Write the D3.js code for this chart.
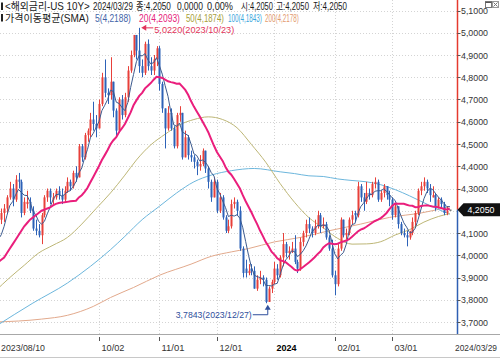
<!DOCTYPE html>
<html><head><meta charset="utf-8">
<script src="https://cdn.jsdelivr.net/npm/d3@7"></script>
<style>body{margin:0;background:#fff}svg{display:block}text{font-family:"Liberation Sans","Noto Sans CJK KR",sans-serif}</style>
</head><body>
<svg id="c" width="500" height="358"></svg>
<script>
const dates = [
"2023/08/10","2023/08/11","2023/08/14","2023/08/15","2023/08/16","2023/08/17","2023/08/18","2023/08/21","2023/08/22","2023/08/23","2023/08/24","2023/08/25","2023/08/28","2023/08/29","2023/08/30","2023/08/31",
"2023/09/01","2023/09/05","2023/09/06","2023/09/07","2023/09/08","2023/09/11","2023/09/12","2023/09/13","2023/09/14","2023/09/15","2023/09/18","2023/09/19","2023/09/20","2023/09/21","2023/09/22","2023/09/25","2023/09/26","2023/09/27","2023/09/28","2023/09/29",
"2023/10/02","2023/10/03","2023/10/04","2023/10/05","2023/10/06","2023/10/10","2023/10/11","2023/10/12","2023/10/13","2023/10/16","2023/10/17","2023/10/18","2023/10/19","2023/10/20","2023/10/23","2023/10/24","2023/10/25","2023/10/26","2023/10/27","2023/10/30","2023/10/31",
"2023/11/01","2023/11/02","2023/11/03","2023/11/06","2023/11/07","2023/11/08","2023/11/09","2023/11/13","2023/11/14","2023/11/15","2023/11/16","2023/11/17","2023/11/20","2023/11/21","2023/11/22","2023/11/24","2023/11/27","2023/11/28","2023/11/29","2023/11/30",
"2023/12/01","2023/12/04","2023/12/05","2023/12/06","2023/12/07","2023/12/08","2023/12/11","2023/12/12","2023/12/13","2023/12/14","2023/12/15","2023/12/18","2023/12/19","2023/12/20","2023/12/21","2023/12/22","2023/12/26","2023/12/27","2023/12/28","2023/12/29",
"2024/01/02","2024/01/03","2024/01/04","2024/01/05","2024/01/08","2024/01/09","2024/01/10","2024/01/11","2024/01/12","2024/01/16","2024/01/17","2024/01/18","2024/01/19","2024/01/22","2024/01/23","2024/01/24","2024/01/25","2024/01/26","2024/01/29","2024/01/30","2024/01/31",
"2024/02/01","2024/02/02","2024/02/05","2024/02/06","2024/02/07","2024/02/08","2024/02/09","2024/02/12","2024/02/13","2024/02/14","2024/02/15","2024/02/16","2024/02/20","2024/02/21","2024/02/22","2024/02/23","2024/02/26","2024/02/27","2024/02/28","2024/02/29",
"2024/03/01","2024/03/04","2024/03/05","2024/03/06","2024/03/07","2024/03/08","2024/03/11","2024/03/12","2024/03/13","2024/03/14","2024/03/15","2024/03/18","2024/03/19","2024/03/20","2024/03/21","2024/03/22","2024/03/25","2024/03/26","2024/03/27","2024/03/28","2024/03/29"];

const open = [4.01,4.08,4.16,4.19,4.21,4.26,4.30,4.25,4.34,4.33,
4.19,4.23,4.24,4.20,4.12,4.11,4.09,4.18,4.26,4.29,
4.25,4.26,4.29,4.27,4.25,4.29,4.33,4.31,4.37,4.35,
4.49,4.44,4.54,4.56,4.61,4.59,4.57,4.68,4.80,4.73,
4.72,4.78,4.65,4.56,4.70,4.63,4.71,4.83,4.90,4.99,
4.92,4.85,4.82,4.95,4.85,4.83,4.88,4.93,4.77,4.66,
4.57,4.64,4.57,4.49,4.63,4.64,4.44,4.53,4.45,4.44,
4.42,4.40,4.41,4.47,4.39,4.33,4.26,4.33,4.20,4.26,
4.17,4.11,4.13,4.23,4.24,4.20,4.03,3.94,3.92,3.94,
3.93,3.85,3.89,3.90,3.89,3.79,3.85,3.88,3.94,3.91,
3.99,4.05,4.01,4.02,4.03,3.97,3.94,4.06,4.10,4.14,
4.12,4.10,4.13,4.18,4.13,4.14,4.08,4.03,3.91,3.87,
4.03,4.16,4.09,4.10,4.16,4.19,4.18,4.31,4.26,4.24,
4.28,4.27,4.32,4.33,4.25,4.28,4.31,4.27,4.25,4.18,
4.22,4.14,4.10,4.09,4.08,4.10,4.15,4.19,4.29,4.31,
4.33,4.30,4.26,4.27,4.22,4.25,4.23,4.19,4.205];

const high = [4.11,4.17,4.21,4.23,4.27,4.33,4.32,4.36,4.37,4.34,
4.26,4.29,4.26,4.22,4.16,4.14,4.19,4.27,4.30,4.30,
4.28,4.30,4.31,4.30,4.31,4.35,4.34,4.38,4.40,4.50,
4.50,4.55,4.57,4.64,4.69,4.63,4.70,4.82,4.88,4.75,
4.89,4.78,4.66,4.71,4.72,4.73,4.85,4.92,4.99,4.99,
5.022,4.88,4.96,4.97,4.89,4.90,4.94,4.94,4.78,4.66,
4.67,4.66,4.58,4.64,4.67,4.64,4.56,4.54,4.47,4.45,
4.43,4.45,4.48,4.47,4.40,4.34,4.35,4.34,4.28,4.27,
4.18,4.16,4.25,4.26,4.25,4.22,4.04,3.98,3.96,3.96,
3.95,3.91,3.93,3.91,3.90,3.86,3.89,3.97,3.96,4.00,
4.10,4.06,4.04,4.06,4.09,3.98,4.08,4.11,4.16,4.17,
4.13,4.16,4.20,4.19,4.17,4.15,4.09,4.07,3.93,4.05,
4.17,4.16,4.12,4.17,4.20,4.20,4.33,4.32,4.28,4.33,
4.30,4.33,4.35,4.34,4.29,4.32,4.31,4.29,4.26,4.23,
4.22,4.15,4.12,4.11,4.11,4.17,4.20,4.30,4.33,4.35,
4.34,4.32,4.31,4.28,4.26,4.26,4.24,4.22,4.205];

const low = [3.99,4.07,4.14,4.15,4.19,4.25,4.22,4.24,4.30,4.17,
4.18,4.21,4.19,4.11,4.09,4.08,4.05,4.17,4.24,4.23,
4.23,4.25,4.25,4.23,4.24,4.28,4.29,4.30,4.33,4.35,
4.42,4.43,4.51,4.53,4.56,4.53,4.57,4.67,4.71,4.68,
4.70,4.62,4.53,4.55,4.61,4.62,4.69,4.82,4.89,4.88,
4.82,4.80,4.81,4.83,4.81,4.81,4.85,4.74,4.64,4.48,
4.56,4.56,4.48,4.48,4.60,4.43,4.44,4.43,4.42,4.39,
4.36,4.38,4.40,4.37,4.30,4.24,4.26,4.19,4.19,4.16,
4.10,4.10,4.12,4.21,4.18,4.02,3.90,3.90,3.91,3.91,
3.85,3.84,3.87,3.86,3.7843,3.79,3.83,3.87,3.89,3.90,
3.95,3.99,3.98,4.01,3.96,3.92,3.93,4.04,4.08,4.10,
4.08,4.09,4.12,4.10,4.12,4.07,4.02,3.90,3.82,3.86,
4.02,4.08,4.07,4.09,4.14,4.15,4.17,4.24,4.20,4.23,
4.25,4.26,4.30,4.24,4.24,4.26,4.25,4.22,4.16,4.17,
4.12,4.09,4.08,4.04,4.07,4.09,4.13,4.18,4.27,4.29,
4.28,4.24,4.26,4.20,4.21,4.21,4.18,4.18,4.205];

const close = [4.08,4.16,4.19,4.21,4.26,4.30,4.25,4.34,4.33,4.19,
4.24,4.24,4.20,4.12,4.11,4.09,4.18,4.26,4.29,4.26,
4.26,4.29,4.27,4.25,4.29,4.33,4.31,4.37,4.35,4.49,
4.44,4.54,4.56,4.61,4.59,4.57,4.68,4.80,4.73,4.72,
4.78,4.65,4.56,4.70,4.63,4.71,4.83,4.90,4.99,4.92,
4.85,4.82,4.95,4.85,4.83,4.88,4.93,4.77,4.66,4.57,
4.64,4.57,4.49,4.63,4.64,4.44,4.53,4.45,4.44,4.42,
4.40,4.41,4.47,4.39,4.33,4.26,4.33,4.20,4.26,4.17,
4.11,4.13,4.23,4.24,4.20,4.03,3.92,3.92,3.93,3.93,
3.85,3.89,3.90,3.89,3.79,3.85,3.88,3.94,3.91,3.99,
4.05,4.01,4.02,4.03,3.97,3.94,4.06,4.10,4.14,4.12,
4.10,4.13,4.18,4.13,4.14,4.08,4.03,3.91,3.87,4.03,
4.16,4.09,4.10,4.16,4.18,4.18,4.31,4.26,4.24,4.28,
4.27,4.32,4.33,4.25,4.28,4.31,4.27,4.25,4.18,4.22,
4.14,4.10,4.09,4.08,4.10,4.15,4.19,4.29,4.31,4.33,
4.30,4.27,4.27,4.22,4.25,4.23,4.19,4.20,4.205];

const ma5 = [4.046,4.072,4.092,4.130,4.180,4.224,4.242,4.272,4.296,4.282,
4.270,4.268,4.240,4.198,4.182,4.152,4.140,4.152,4.186,4.216,
4.250,4.272,4.274,4.266,4.272,4.286,4.290,4.310,4.330,4.370,
4.392,4.438,4.476,4.528,4.548,4.574,4.602,4.650,4.674,4.700,
4.742,4.736,4.688,4.682,4.664,4.650,4.686,4.754,4.812,4.870,
4.898,4.896,4.906,4.878,4.860,4.866,4.888,4.852,4.814,4.762,
4.714,4.642,4.586,4.580,4.594,4.554,4.546,4.538,4.500,4.456,
4.448,4.424,4.428,4.418,4.400,4.372,4.356,4.302,4.276,4.244,
4.214,4.174,4.180,4.176,4.182,4.166,4.124,4.062,4.000,3.946,
3.910,3.904,3.900,3.892,3.864,3.864,3.862,3.870,3.874,3.914,
3.954,3.980,3.996,4.020,4.016,3.994,4.004,4.020,4.042,4.072,
4.104,4.118,4.134,4.132,4.136,4.132,4.112,4.058,4.006,3.984,
4.000,4.012,4.050,4.108,4.138,4.142,4.186,4.218,4.234,4.254,
4.272,4.274,4.288,4.290,4.290,4.298,4.288,4.272,4.258,4.246,
4.212,4.178,4.146,4.126,4.102,4.104,4.122,4.162,4.208,4.254,
4.284,4.300,4.296,4.278,4.262,4.248,4.232,4.218,4.2188];

const ma20 = [3.96,3.97,3.98,3.99,4.01,4.03,4.05,4.07,4.09,4.11,
4.13,4.145,4.16,4.17,4.18,4.19,4.20,4.205,4.21,4.215,
4.224,4.231,4.235,4.237,4.238,4.240,4.243,4.244,4.245,4.260,
4.270,4.285,4.303,4.328,4.352,4.376,4.401,4.428,4.450,4.473,
4.499,4.517,4.531,4.554,4.571,4.590,4.616,4.642,4.674,4.696,
4.716,4.730,4.750,4.762,4.774,4.789,4.802,4.800,4.797,4.789,
4.782,4.778,4.775,4.771,4.772,4.758,4.743,4.721,4.693,4.668,
4.646,4.625,4.601,4.578,4.553,4.522,4.492,4.464,4.444,4.424,
4.397,4.375,4.362,4.343,4.321,4.300,4.270,4.243,4.218,4.193,
4.166,4.140,4.111,4.086,4.059,4.039,4.016,4.003,3.986,3.977,
3.974,3.968,3.957,3.947,3.935,3.931,3.938,3.947,3.957,3.967,
3.979,3.991,4.005,4.017,4.035,4.046,4.054,4.052,4.050,4.052,
4.058,4.062,4.066,4.072,4.083,4.095,4.107,4.115,4.120,4.128,
4.137,4.146,4.154,4.160,4.167,4.178,4.190,4.207,4.223,4.232,
4.231,4.232,4.231,4.227,4.223,4.222,4.216,4.217,4.221,4.223,
4.225,4.222,4.219,4.218,4.216,4.212,4.208,4.206,4.2093];

const ma50Idx = [0,5,10,15,20,25,30,35,40,45,49,54,59,64,69,74,79,84,89,94,99,104,109,114,119,124,129,134,139,144,149,154,158];
const ma50 = [3.84,3.90,3.955,4.01,4.045,4.08,4.14,4.21,4.28,4.36,4.428,4.496,4.544,4.586,4.610,4.622,4.610,4.573,4.498,4.418,4.322,4.238,4.169,4.123,4.076,4.050,4.051,4.061,4.091,4.115,4.149,4.174,4.1874];

const ma100Idx = [0,13,25,33,40,45,51,57,63,69,75,82,90,99,104,109,114,119,124,129,134,139,144,149,154,158];
const ma100 = [3.68,3.785,3.875,3.95,4.025,4.085,4.16,4.22,4.28,4.33,4.36,4.38,4.39,4.375,4.367,4.357,4.354,4.343,4.336,4.330,4.317,4.295,4.267,4.236,4.206,4.1843];

const ma200Idx = [0,16,25,34,40,48,57,68,75,82,88,97,106,116,127,137,148,158];
const ma200 = [3.70,3.713,3.73,3.77,3.81,3.855,3.91,3.96,3.995,4.015,4.03,4.06,4.08,4.11,4.14,4.17,4.19,4.2178];

const yTicks = [3.7,3.8,3.9,4.0,4.1,4.2,4.3,4.4,4.5,4.6,4.7,4.8,4.9,5.0,5.1];
const xTickDates = ["2023/10/02","2023/11/01","2023/12/01","2024/01/02","2024/02/01","2024/03/01"];
const xTickLabels = ["10/02","11/01","12/01","2024","02/01","03/01"];

const titleText = "<해외금리-US 10Y>";
const lastDate = "2024/03/29";
const quoteItems = ["종:4,2050","0,0000","0,00%","시:4,2050","고:4,2050","저:4,2050"];
const smaTitle = "가격이동평균(SMA)";
const smaLabels = ["5(4,2188)","20(4,2093)","50(4,1874)","100(4,1843)","200(4,2178)"];
const highNote = "5,0220(2023/10/23)";
const lowNote = "3,7843(2023/12/27)";

// ---------- drawing ----------
const svg = d3.select("#c");
const axisX = 457.5;
const x = d3.scaleLinear().domain([0, dates.length - 1]).range([-4.5, 449.8]);
const y = d3.scaleLinear().domain([3.7, 5.1]).range([322, 10.5]);
const fmt = v => d3.format(".4f")(v).replace(".", ",");
const last = close[close.length - 1];
const yl = y(last);

// text squeezed horizontally to a given width (transform, so its box is the drawn box)
function fitText(parent, str, tx, ty, w, size, color, weight) {
  const t = parent.append("text").attr("x", 0).attr("y", 0).attr("font-size", size)
    .attr("fill", color).attr("font-weight", weight || "normal").text(str);
  const nat = t.node().getComputedTextLength();
  const k = nat > 0 ? w / nat : 1;
  t.attr("transform", `translate(${tx},${ty}) scale(${k},1)`);
  return t;
}

svg.append("defs").append("clipPath").attr("id", "plot")
  .append("rect").attr("x", 0).attr("y", 0).attr("width", axisX).attr("height", 334);

// grid
const grid = svg.append("g");
grid.selectAll(".hg").data(yTicks).join("line")
  .attr("x1", 0).attr("x2", axisX).attr("y1", d => Math.round(y(d)) + 0.5).attr("y2", d => Math.round(y(d)) + 0.5)
  .attr("stroke", "#d4d4d4").attr("stroke-dasharray", "1,2");
const tickIdx = xTickDates.map(d => dates.indexOf(d));
grid.selectAll(".vg").data(tickIdx).join("line")
  .attr("x1", d => Math.round(x(d)) + 0.5).attr("x2", d => Math.round(x(d)) + 0.5)
  .attr("y1", 0).attr("y2", 334).attr("stroke", "#d4d4d4").attr("stroke-dasharray", "1,2");

const plot = svg.append("g").attr("clip-path", "url(#plot)");

const lineIdx = d3.line().x(d => x(d[0])).y(d => y(d[1]));
const smooth = d3.line().x(d => x(d[0])).y(d => y(d[1])).curve(d3.curveMonotoneX);

plot.append("path").datum(ma200Idx.map((d, i) => [d, ma200[i]])).attr("d", smooth)
  .attr("fill", "none").attr("stroke", "#e2a98c").attr("stroke-width", 1);
plot.append("path").datum(ma100Idx.map((d, i) => [d, ma100[i]])).attr("d", smooth)
  .attr("fill", "none").attr("stroke", "#6cb6dc").attr("stroke-width", 1);
plot.append("path").datum(ma50Idx.map((d, i) => [d, ma50[i]])).attr("d", smooth)
  .attr("fill", "none").attr("stroke", "#bdb676").attr("stroke-width", 1);

// candles
const up = "#e8403a", down = "#2d62b8";
const candles = plot.append("g");
dates.forEach((d, i) => {
  const c = close[i] > open[i] ? up : (close[i] < open[i] ? down : "#333");
  const cx = Math.round(x(i)) + 0.5;
  candles.append("line").attr("x1", cx).attr("x2", cx)
    .attr("y1", y(high[i])).attr("y2", y(low[i])).attr("stroke", c).attr("stroke-width", 1);
  const top = y(Math.max(open[i], close[i])), bot = y(Math.min(open[i], close[i]));
  candles.append("rect").attr("x", cx - 1).attr("width", 2)
    .attr("y", top).attr("height", Math.max(1, bot - top)).attr("fill", c);
});

plot.append("path").datum(ma5.map((v, i) => [i, v])).attr("d", lineIdx)
  .attr("fill", "none").attr("stroke", "#3c5a8e").attr("stroke-width", 1);
plot.append("path").datum(ma20.map((v, i) => [i, v])).attr("d", lineIdx)
  .attr("fill", "none").attr("stroke", "#ea1e7c").attr("stroke-width", 2);

// annotations
const hiI = high.indexOf(d3.max(high)), loI = low.indexOf(d3.min(low));
const hx = x(hiI) + 2, hy = y(high[hiI]);
const red = "#e2335a", navy = "#2f4f9c";
svg.append("path").attr("d", `M${hx},${hy} l5,-3 v6 z`).attr("fill", red);
svg.append("line").attr("x1", hx + 4).attr("x2", hx + 12).attr("y1", hy).attr("y2", hy).attr("stroke", red);
fitText(svg, highNote, hx + 13, hy + 5, 80, 9.5, red);
const lx = x(loI) + 2, ly = y(low[loI]) + 1.5;
svg.append("path").attr("d", `M${lx},${ly} l-3,5 h6 z`).attr("fill", navy);
svg.append("polyline").attr("points", `${lx},${ly + 4} ${lx},${ly + 10} ${lx - 15},${ly + 10}`)
  .attr("fill", "none").attr("stroke", navy);
fitText(svg, lowNote, lx - 92, ly + 13.5, 76, 9.5, navy);

// right axis
svg.append("line").attr("x1", axisX).attr("x2", axisX).attr("y1", 0).attr("y2", yl).attr("stroke", "#e53a2e").attr("stroke-width", 1.5);
svg.append("line").attr("x1", axisX).attr("x2", axisX).attr("y1", yl).attr("y2", 335).attr("stroke", "#2f5fb3").attr("stroke-width", 1.5);
const shownTicks = yTicks.filter(v => Math.abs(y(v) - yl) > 9);
const ax = svg.append("g");
ax.selectAll("line").data(shownTicks).join("line")
  .attr("x1", axisX).attr("x2", axisX + 3).attr("y1", d => Math.round(y(d)) + 0.5).attr("y2", d => Math.round(y(d)) + 0.5)
  .attr("stroke", "#555");
shownTicks.forEach(v => fitText(ax, fmt(v), axisX + 3.5, y(v) + 3.5, 27, 9.5, "#333"));
// price tag
svg.append("path").attr("d", `M${axisX},${yl} L${axisX + 6},${yl - 6.5} H500 V${yl + 6.5} H${axisX + 6} Z`).attr("fill", "#111");
fitText(svg, fmt(last), axisX + 10, yl + 3.6, 27, 9.5, "#fff");

// window buttons
svg.append("rect").attr("x", 485.5).attr("y", 1.5).attr("width", 6).attr("height", 6).attr("fill", "#fff").attr("stroke", "#777");
svg.append("line").attr("x1", 485.5).attr("x2", 491.5).attr("y1", 2.5).attr("y2", 2.5).attr("stroke", "#555");
svg.append("rect").attr("x", 492.5).attr("y", 1.5).attr("width", 6).attr("height", 6).attr("fill", "#fff").attr("stroke", "#999");
svg.append("path").attr("d", "M493.5,2.5 L497.5,6.5 M497.5,2.5 L493.5,6.5").attr("stroke", "#777");

// bottom axis
svg.append("line").attr("x1", 0).attr("x2", 500).attr("y1", 334.5).attr("y2", 334.5).attr("stroke", "#a8a8a8");
svg.append("line").attr("x1", 0).attr("x2", 500).attr("y1", 357.5).attr("y2", 357.5).attr("stroke", "#c8c8c8");
fitText(svg, dates[0], 1, 350.5, 44, 9.5, "#333");
tickIdx.forEach((d, k) => {
  const tx = Math.round(x(d)) + 0.5;
  const bold = xTickLabels[k] === "2024";
  if (!bold) svg.append("line").attr("x1", tx).attr("x2", tx).attr("y1", 337).attr("y2", 341).attr("stroke", "#555");
  fitText(svg, xTickLabels[k], tx + 2, 350.5, bold ? 20 : 23, 9.5, bold ? "#000" : "#333", bold ? "bold" : "normal");
});
fitText(svg, lastDate, 455, 350.5, 42, 9.5, "#333");

// header legends
const hdr = svg.append("g");
hdr.append("rect").attr("x", 1).attr("y", 2.5).attr("width", 2).attr("height", 7.5).attr("fill", "#222");
hdr.append("rect").attr("x", 1).attr("y", 14).attr("width", 2).attr("height", 7.5).attr("fill", "#222");
const t1 = [[titleText, 5, 85], [lastDate, 93, 40], [quoteItems[0], 136, 35], [quoteItems[1], 177, 26],
  [quoteItems[2], 207, 26], [quoteItems[3], 241, 32], [quoteItems[4], 276, 33], [quoteItems[5], 313, 34]];
t1.forEach(([t, tx, w]) => fitText(hdr, t, tx, 10, w, 10, "#1a1a1a"));
fitText(hdr, smaTitle, 5, 21.5, 84, 10, "#1a1a1a");
const smaCols = ["#3f64a8", "#e6207a", "#a8a03a", "#3aa6dc", "#e39a6e"];
const smaPos = [[95, 36], [139, 41], [186, 38], [228, 34], [265, 34]];
smaLabels.forEach((t, k) => fitText(hdr, t, smaPos[k][0], 21.5, smaPos[k][1], 10, smaCols[k]));
</script>
</body></html>
